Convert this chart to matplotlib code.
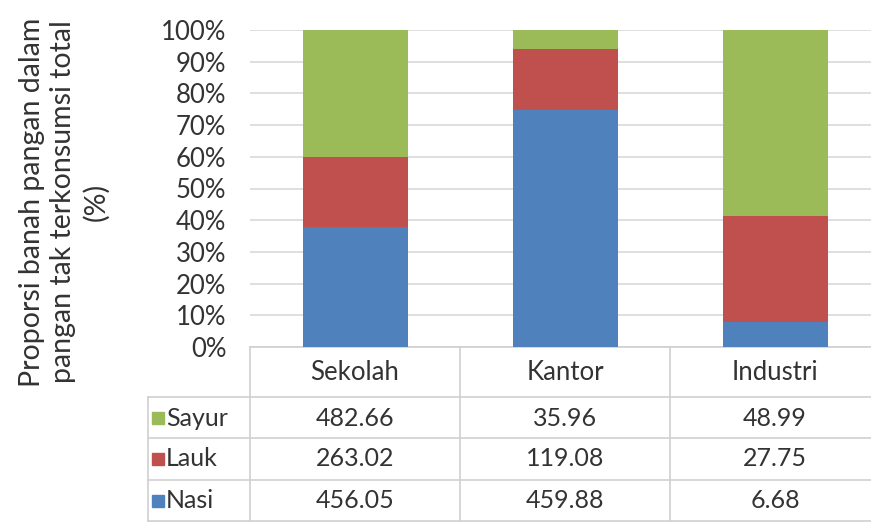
import matplotlib
matplotlib.use("Agg")
import matplotlib.pyplot as plt
import numpy as np
from matplotlib.transforms import blended_transform_factory
from matplotlib.patches import Rectangle

categories = ["Sekolah", "Kantor", "Industri"]
series_names = ["Sayur", "Lauk", "Nasi"]
sayur = [482.66, 35.96, 48.99]
lauk = [263.02, 119.08, 27.75]
nasi = [456.05, 459.88, 6.68]
colors = {"Nasi": "#4F81BD", "Lauk": "#C0504D", "Sayur": "#9BBB59"}
yticks = [0, 10, 20, 30, 40, 50, 60, 70, 80, 90, 100]
ylabel = "Proporsi banah pangan dalam\npangan tak terkonsumsi total\n(%)"

plt.rcParams['font.family'] = ['Lato', 'DejaVu Sans']
W, H = 871, 524
fig = plt.figure(figsize=(W / 100, H / 100), dpi=100)
fig.patch.set_facecolor("white")

px_left, px_right, px_top, px_bot = 250, 880, 30, 347
ax = fig.add_axes([px_left / W, 1 - px_bot / H, (px_right - px_left) / W, (px_bot - px_top) / H])

vals = {"Sayur": np.array(sayur), "Lauk": np.array(lauk), "Nasi": np.array(nasi)}
total = vals["Sayur"] + vals["Lauk"] + vals["Nasi"]
x = np.arange(len(categories))
bottom = np.zeros(len(categories))
for name in ["Nasi", "Lauk", "Sayur"]:
    pct = vals[name] / total * 100
    ax.bar(x, pct, width=0.5, bottom=bottom, color=colors[name], zorder=3)
    bottom += pct

ax.set_xlim(-0.5, 2.5)
ax.set_ylim(0, 100)
ax.set_yticks(yticks)
ax.set_yticklabels([f"{t}%" for t in yticks], fontsize=18.5, color="#333333")
ax.tick_params(axis="y", length=0, pad=17)
ax.set_xticks([])
ax.grid(axis="y", color="#D9D9D9", linewidth=1.2, zorder=0)
for s in ax.spines.values():
    s.set_visible(False)

# y label
fig.text(64 / W, 1 - 202 / H, ylabel, rotation=90, ha="center", va="center",
         fontsize=20.5, color="#333333", linespacing=1.28, multialignment="center")

# data table
tr = blended_transform_factory(ax.transData, fig.transFigure)
def fy(py):
    return 1 - py / H

row_bounds = [347, 397, 438, 480, 521]
col_bounds = [-0.5, 0.5, 1.5, 2.5]
label_left = -0.5 - (250 - 148) / 210
lc = "#D0D0D0"
lw = 1.2
ax.plot([-0.5, 2.5], [fy(347)] * 2, transform=tr, color=lc, lw=lw, clip_on=False)
for py in row_bounds[1:]:
    ax.plot([label_left, 2.5], [fy(py)] * 2, transform=tr, color=lc, lw=lw, clip_on=False)
ax.plot([label_left] * 2, [fy(397), fy(521)], transform=tr, color=lc, lw=lw, clip_on=False)
for cb in col_bounds[:3]:
    ax.plot([cb] * 2, [fy(347), fy(521)], transform=tr, color=lc, lw=lw, clip_on=False)

for i, c in enumerate(categories):
    ax.text(i, fy(372), c, transform=tr, ha="center", va="center", fontsize=18.5, color="#333333")

row_centers = [418, 459, 501]
for r, name in enumerate(series_names):
    yc = fy(row_centers[r])
    sq = 12
    ax.add_patch(Rectangle((label_left + 4 / 210, yc - sq / 2 / H), sq / 210, sq / H,
                           transform=tr, color=colors[name], clip_on=False))
    ax.text(label_left + 18 / 210, yc, name, transform=tr, ha="left", va="center",
            fontsize=18, color="#333333")
    for i in range(len(categories)):
        ax.text(i, yc, f"{vals[name][i]:.2f}", transform=tr, ha="center", va="center",
                fontsize=18, color="#333333")

fig.savefig("out.png", dpi=100, facecolor="white")
